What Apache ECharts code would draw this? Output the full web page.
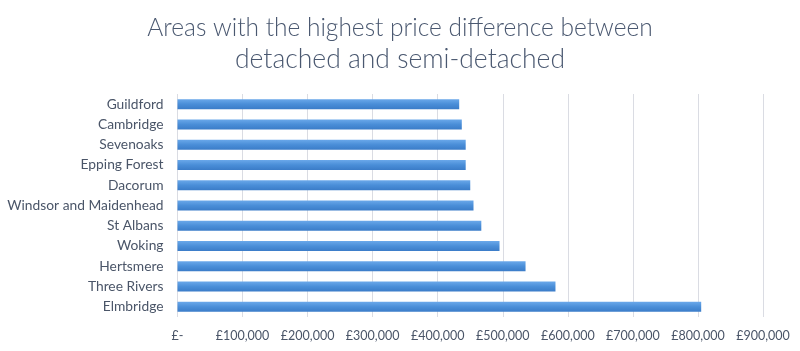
<!DOCTYPE html>
<html>
<head>
<meta charset="utf-8">
<script src="https://cdn.jsdelivr.net/npm/echarts@6/dist/echarts.min.js"></script>
<style>
  html, body { margin: 0; padding: 0; background: #fff; }
  #chart { width: 800px; height: 351px; }
</style>
</head>
<body>
<div id="chart"></div>
<script>
// areas, top to bottom as in the picture
const areas = ['Guildford', 'Cambridge', 'Sevenoaks', 'Epping Forest', 'Dacorum',
  'Windsor and Maidenhead', 'St Albans', 'Woking', 'Hertsmere', 'Three Rivers', 'Elmbridge']
// price difference detached vs semi-detached (GBP)
const priceDiff = [433000, 437000, 443000, 443000, 450000,
  455000, 467000, 495000, 535000, 581000, 805000]
const xTicks = [0, 100000, 200000, 300000, 400000, 500000, 600000, 700000, 800000, 900000]

function fmtPound(v) {
  if (v === 0) return '£-'
  return '£' + String(v).replace(/\B(?=(\d{3})+(?!\d))/g, ',')
}

const myChart = echarts.init(document.getElementById('chart'))
myChart.setOption({
  animation: false,
  title: {
    text: '{a|Areas with the highest price difference between}\n{b|detached and semi-detached}',
    left: 'center',
    top: 8,
    textStyle: {
      rich: {
        a: { fontFamily: 'Lato', fontWeight: 300, fontSize: 24.5, color: '#4a5870', lineHeight: 30 },
        b: { fontFamily: 'Lato', fontWeight: 300, fontSize: 26.5, color: '#4a5870', lineHeight: 32 }
      }
    }
  },
  grid: {
    left: 177.5,
    right: 37,
    top: 94,
    bottom: 34
  },
  xAxis: {
    type: 'value',
    min: xTicks[0],
    max: xTicks[xTicks.length - 1],
    interval: 100000,
    axisLine: { show: false },
    axisTick: { show: false },
    axisLabel: {
      formatter: fmtPound,
      fontFamily: 'Lato',
      fontSize: 12.5,
      color: '#4a5568',
      margin: 12
    },
    splitLine: { lineStyle: { color: '#dadce3', width: 1 } }
  },
  yAxis: {
    type: 'category',
    inverse: true,
    data: areas,
    axisLine: { show: false },
    axisTick: { show: false },
    axisLabel: {
      fontFamily: 'Lato',
      fontSize: 13.8,
      color: '#4a5568',
      margin: 14
    }
  },
  series: [
    {
      type: 'bar',
      data: priceDiff,
      barWidth: 10,
      itemStyle: {
        color: new echarts.graphic.LinearGradient(0, 0, 0, 1, [
          { offset: 0, color: '#6aa8ea' },
          { offset: 0.5, color: '#4a8ed8' },
          { offset: 1, color: '#3b7cc8' }
        ])
      }
    }
  ]
})
</script>
</body>
</html>
